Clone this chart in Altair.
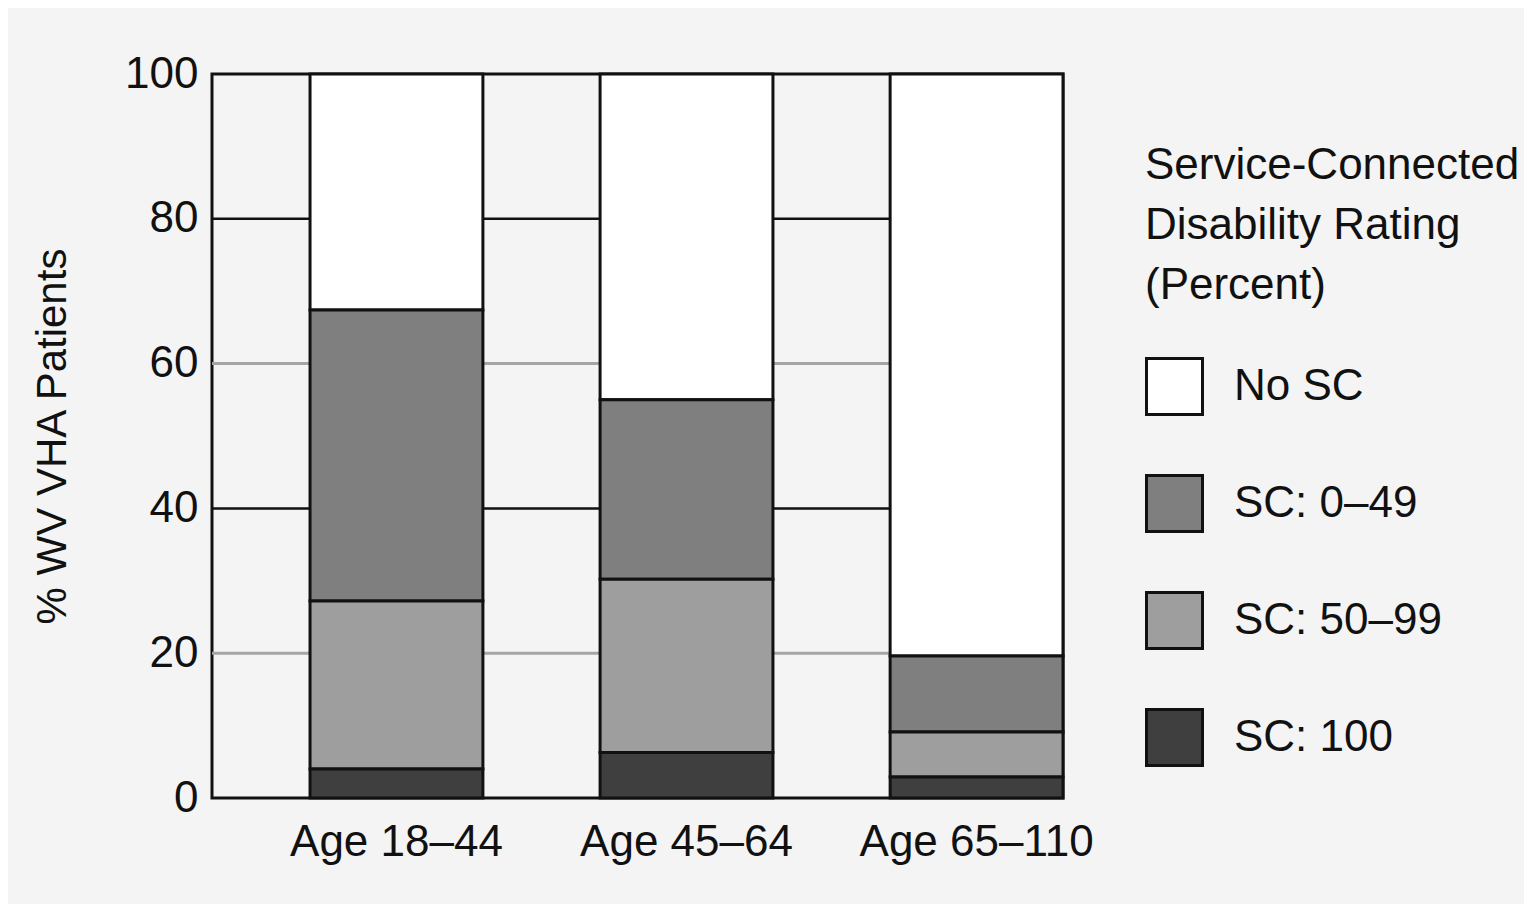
import altair as alt
import pandas as pd

ages = ["Age 18–44", "Age 45–64", "Age 65–110"]
ratings = ["No SC", "SC: 0–49", "SC: 50–99", "SC: 100"]
no_sc = [32.6, 45.0, 80.4]
sc_0_49 = [40.2, 24.8, 10.5]
sc_50_99 = [23.2, 23.9, 6.2]
sc_100 = [4.0, 6.3, 2.9]
colors = ["#ffffff", "#7f7f7f", "#9e9e9e", "#3f3f3f"]
y_ticks = [0, 20, 40, 60, 80, 100]
grid_dark = [40, 80]
grid_light = [20, 60]

FONT = "Liberation Sans, Arial, sans-serif"

series = [no_sc, sc_0_49, sc_50_99, sc_100]
rows = []
for r_i, (rating, vals) in enumerate(zip(ratings, series)):
    for age, v in zip(ages, vals):
        rows.append({"age": age, "rating": rating, "value": v, "order": len(ratings) - r_i})
df = pd.DataFrame(rows)

yscale = alt.Scale(domain=[0, 100], nice=False, zero=True)

rule_dark = alt.Chart(pd.DataFrame({"v": grid_dark})).mark_rule(
    color="#111111", strokeWidth=2.5
).encode(y=alt.Y("v:Q", scale=yscale))

rule_light = alt.Chart(pd.DataFrame({"v": grid_light})).mark_rule(
    color="#a5a5a5", strokeWidth=3
).encode(y=alt.Y("v:Q", scale=yscale))

bars = alt.Chart(df).mark_bar(stroke="#111111", strokeWidth=3).encode(
    x=alt.X(
        "age:N",
        sort=ages,
        scale=alt.Scale(paddingInner=0.404, paddingOuter=0.169, align=1),
        axis=alt.Axis(
            title=None, labelAngle=0, ticks=False, domain=False,
            labelFontSize=44, labelFont=FONT, labelColor="#111111",
            labelPadding=22, labelLimit=1000,
        ),
    ),
    y=alt.Y(
        "value:Q",
        stack="zero",
        scale=yscale,
        axis=alt.Axis(
            values=y_ticks, ticks=False, domain=False, grid=False,
            labelFontSize=44, labelFont=FONT, labelColor="#111111",
            labelPadding=14,
            title="% WV VHA Patients", titleFontSize=42, titleFont=FONT,
            titleFontWeight="normal", titleColor="#111111", titlePadding=50,
            titleLimit=1000,
        ),
    ),
    color=alt.Color(
        "rating:N",
        sort=ratings,
        scale=alt.Scale(domain=ratings, range=colors),
        legend=alt.Legend(
            title=["Service-Connected", "Disability Rating", "(Percent)"],
            orient="none", legendX=933, legendY=70,
            titleFont=FONT, titleFontSize=44, titleFontWeight="normal",
            titleColor="#111111", titleLineHeight=60, titlePadding=49,
            titleLimit=1000,
            labelFont=FONT, labelFontSize=44, labelColor="#111111",
            labelOffset=30, labelLimit=1000,
            symbolType="square", symbolSize=3136,
            symbolStrokeColor="#111111", symbolStrokeWidth=3,
            symbolOpacity=1, rowPadding=48,
        ),
    ),
    order=alt.Order("order:Q"),
)

chart = alt.layer(rule_light, rule_dark, bars).properties(
    width=851,
    height=724,
    background="#f4f4f4",
    padding={"left": 204, "top": 66, "right": 461, "bottom": 106},
    autosize=alt.AutoSizeParams(type="none"),
).configure_view(
    stroke="#111111", strokeWidth=3, fill="#f4f4f4"
)

chart.save("out.html", embed_options={"renderer": "svg", "actions": False})
